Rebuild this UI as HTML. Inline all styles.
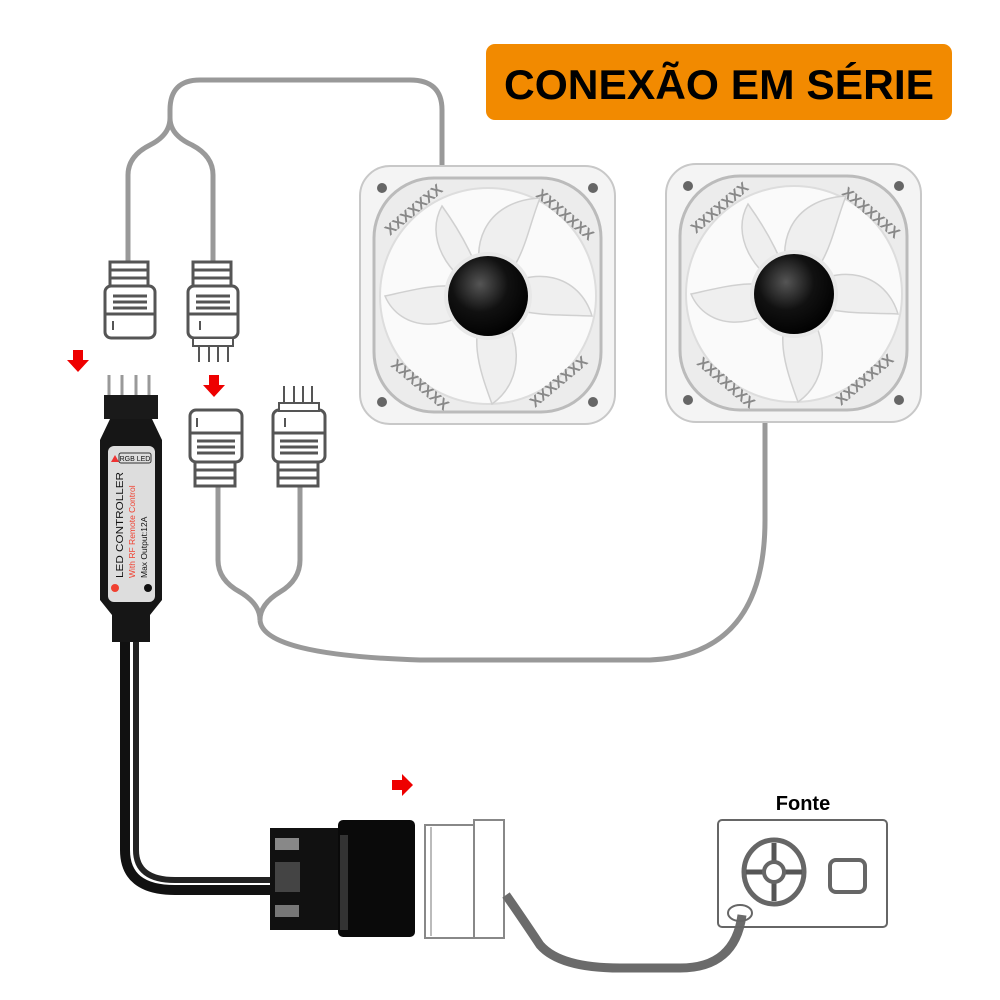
<!DOCTYPE html>
<html><head><style>body{margin:0;background:#fff}svg{display:block}</style></head><body>
<svg width="1000" height="1000" viewBox="0 0 1000 1000" xmlns="http://www.w3.org/2000/svg" font-family="Liberation Sans, sans-serif">
<defs>
<radialGradient id="hub" cx="0.4" cy="0.35" r="0.7"><stop offset="0" stop-color="#555"/><stop offset="0.5" stop-color="#111"/><stop offset="1" stop-color="#000"/></radialGradient>
<g id="fan">
<rect x="0" y="0" width="255" height="258" rx="30" fill="#f4f4f4" stroke="#c8c8c8" stroke-width="2"/>
<rect x="14" y="12" width="227" height="234" rx="60" fill="#ececec" stroke="#bbb" stroke-width="3"/>
<circle cx="128" cy="130" r="108" fill="#fafafa" stroke="#ddd" stroke-width="2"/>
<g fill="#efefef" stroke="#d0d0d0" stroke-width="1.5">
<path d="M128,130 C105,80 125,35 180,32 C165,70 165,100 128,130Z"/>
<path d="M128,130 C175,95 220,110 232,150 C190,148 160,152 128,130Z"/>
<path d="M128,130 C165,165 165,215 132,238 C118,200 108,170 128,130Z"/>
<path d="M128,130 C88,170 40,165 25,130 C62,122 95,112 128,130Z"/>
<path d="M128,130 C85,110 65,70 82,40 C105,72 115,95 128,130Z"/>
</g>
<circle cx="128" cy="130" r="44" fill="#e8e8e8"/>
<circle cx="128" cy="130" r="40" fill="url(#hub)"/>
<circle cx="22" cy="22" r="5" fill="#666"/><circle cx="233" cy="22" r="5" fill="#666"/>
<circle cx="22" cy="236" r="5" fill="#666"/><circle cx="233" cy="236" r="5" fill="#666"/>
<g font-size="15" fill="#888" font-weight="bold">
<text x="30" y="70" transform="rotate(-40 30 70)">XXXXXXX</text>
<text x="175" y="30" transform="rotate(40 175 30)">XXXXXXX</text>
<text x="30" y="200" transform="rotate(40 30 200)">XXXXXXX</text>
<text x="175" y="242" transform="rotate(-40 175 242)">XXXXXXX</text>
</g>
</g>
</defs>

<rect x="486" y="44" width="466" height="76" rx="9" fill="#f28a00"/>
<text x="719" y="99" text-anchor="middle" font-size="42" font-weight="bold" fill="#000" textLength="430" lengthAdjust="spacingAndGlyphs">CONEXÃO EM SÉRIE</text>

<g fill="none" stroke="#999" stroke-width="5">
<path d="M442,172 L442,110 Q442,80 410,80 L200,80 Q170,80 170,110 L170,118"/>
<path d="M170,118 Q170,135 150,145 Q128,156 128,175 L128,262"/>
<path d="M170,118 Q170,135 192,145 Q213,156 213,175 L213,262"/>
<path d="M218,485 L218,560 Q218,580 240,592 Q260,604 260,620"/>
<path d="M300,485 L300,560 Q300,580 280,592 Q260,604 260,620"/>
<path d="M260,620 Q262,655 420,660 L650,660 Q765,655 765,520 L765,420"/>
</g>

<use href="#fan" x="360" y="166"/>
<use href="#fan" x="666" y="164"/>

<g fill="#fff" stroke="#555" stroke-width="3">
<rect x="110" y="262" width="38" height="24"/>
<rect x="105" y="286" width="50" height="52" rx="6"/>
<line x1="105" y1="314" x2="155" y2="314"/>
<rect x="193" y="262" width="38" height="24"/>
<rect x="188" y="286" width="50" height="52" rx="6"/>
<line x1="188" y1="314" x2="238" y2="314"/>
<rect x="193" y="338" width="40" height="8" stroke-width="2"/>
</g>
<g stroke="#555" stroke-width="3">
<line x1="110" y1="270" x2="148" y2="270"/><line x1="110" y1="278" x2="148" y2="278"/>
<line x1="113" y1="296" x2="147" y2="296"/><line x1="113" y1="302" x2="147" y2="302"/><line x1="113" y1="308" x2="147" y2="308"/>
<line x1="193" y1="270" x2="231" y2="270"/><line x1="193" y1="278" x2="231" y2="278"/>
<line x1="196" y1="296" x2="230" y2="296"/><line x1="196" y1="302" x2="230" y2="302"/><line x1="196" y1="308" x2="230" y2="308"/>
<g stroke-width="2"><line x1="113" y1="321" x2="113" y2="330"/><line x1="200" y1="321" x2="200" y2="330"/>
<line x1="199" y1="346" x2="199" y2="362"/><line x1="209" y1="346" x2="209" y2="362"/><line x1="218" y1="346" x2="218" y2="362"/><line x1="228" y1="346" x2="228" y2="362"/></g>
</g>

<g fill="#fff" stroke="#555" stroke-width="3">
<rect x="190" y="410" width="52" height="52" rx="6"/>
<line x1="190" y1="433" x2="242" y2="433"/>
<rect x="195" y="462" width="40" height="24"/>
<rect x="273" y="410" width="52" height="52" rx="6"/>
<line x1="273" y1="433" x2="325" y2="433"/>
<rect x="278" y="462" width="40" height="24"/>
<rect x="279" y="403" width="40" height="8" stroke-width="2"/>
</g>
<g stroke="#555" stroke-width="3">
<line x1="197" y1="441" x2="235" y2="441"/><line x1="197" y1="447" x2="235" y2="447"/><line x1="197" y1="453" x2="235" y2="453"/>
<line x1="280" y1="441" x2="318" y2="441"/><line x1="280" y1="447" x2="318" y2="447"/><line x1="280" y1="453" x2="318" y2="453"/>
<line x1="195" y1="470" x2="235" y2="470"/><line x1="195" y1="478" x2="235" y2="478"/>
<line x1="278" y1="470" x2="318" y2="470"/><line x1="278" y1="478" x2="318" y2="478"/>
<g stroke-width="2"><line x1="197" y1="418" x2="197" y2="427"/><line x1="285" y1="418" x2="285" y2="427"/>
<line x1="284" y1="386" x2="284" y2="403"/><line x1="294" y1="386" x2="294" y2="403"/><line x1="303" y1="386" x2="303" y2="403"/><line x1="312" y1="386" x2="312" y2="403"/></g>
</g>

<g fill="#e00">
<path d="M73,350 h10 v10 h6 l-11,12 l-11,-12 h6z"/>
<path d="M209,375 h10 v10 h6 l-11,12 l-11,-12 h6z"/>
<path d="M392,780 h10 v-6 l11,11 l-11,11 v-6 h-10z"/>
</g>

<g stroke="#999" stroke-width="3"><line x1="109" y1="375" x2="109" y2="396"/><line x1="122" y1="375" x2="122" y2="396"/><line x1="136" y1="375" x2="136" y2="396"/><line x1="149" y1="375" x2="149" y2="396"/></g>
<rect x="104" y="395" width="54" height="24" fill="#1a1a1a"/>
<path d="M110,419 L152,419 L162,440 L162,600 L150,615 L150,642 L112,642 L112,615 L100,600 L100,440Z" fill="#161616"/>
<rect x="108" y="446" width="47" height="156" rx="6" fill="#ddd"/>
<rect x="119" y="453" width="32" height="10" rx="2" fill="none" stroke="#333" stroke-width="1"/>
<text x="135" y="461" font-size="7" text-anchor="middle" fill="#111">RGB LED</text>
<path d="M111,462 l4,-7 l4,7z" fill="#e33"/>
<text transform="translate(123,578) rotate(-90)" font-size="10.5" fill="#111" textLength="106" lengthAdjust="spacingAndGlyphs">LED CONTROLLER</text>
<text transform="translate(135,578) rotate(-90)" font-size="8.5" fill="#f04030">With RF Remote Control</text>
<text transform="translate(147,578) rotate(-90)" font-size="8.5" fill="#111">Max Output:12A</text>
<circle cx="115" cy="588" r="4" fill="#f04030"/><circle cx="148" cy="588" r="4" fill="#111"/>
<path d="M125,642 L125,850 Q125,890 175,890 L272,890" fill="none" stroke="#111" stroke-width="10"/>
<path d="M136,642 L136,850 Q136,880 175,880 L272,880" fill="none" stroke="#222" stroke-width="6"/>

<rect x="270" y="828" width="75" height="102" fill="#111"/>
<rect x="275" y="838" width="24" height="12" fill="#888"/><rect x="275" y="905" width="24" height="12" fill="#777"/>
<rect x="275" y="862" width="25" height="30" fill="#444"/>
<rect x="338" y="820" width="77" height="117" rx="5" fill="#0a0a0a"/>
<rect x="340" y="835" width="8" height="95" fill="#333"/>

<g fill="#fff" stroke="#888" stroke-width="2">
<rect x="425" y="825" width="49" height="113"/>
<rect x="474" y="820" width="30" height="118"/>
<line x1="431" y1="827" x2="431" y2="936" stroke="#bbb"/>
</g>
<path d="M506,895 Q520,915 540,945 Q560,968 620,968 L680,968 Q735,968 742,915" fill="none" stroke="#6b6b6b" stroke-width="9"/>

<text x="803" y="810" text-anchor="middle" font-size="20" font-weight="bold" fill="#000">Fonte</text>
<rect x="718" y="820" width="169" height="107" rx="4" fill="none" stroke="#666" stroke-width="2"/>
<ellipse cx="774" cy="872" rx="30" ry="32" fill="none" stroke="#666" stroke-width="5"/>
<g stroke="#555" stroke-width="5"><line x1="774" y1="843" x2="774" y2="862"/><line x1="774" y1="882" x2="774" y2="901"/><line x1="746" y1="872" x2="764" y2="872"/><line x1="784" y1="872" x2="802" y2="872"/></g>
<circle cx="774" cy="872" r="10" fill="#fff" stroke="#666" stroke-width="4"/>
<rect x="830" y="860" width="35" height="32" rx="6" fill="none" stroke="#666" stroke-width="4"/>
<ellipse cx="740" cy="913" rx="12" ry="8" fill="none" stroke="#666" stroke-width="2"/>
</svg>
</body></html>
